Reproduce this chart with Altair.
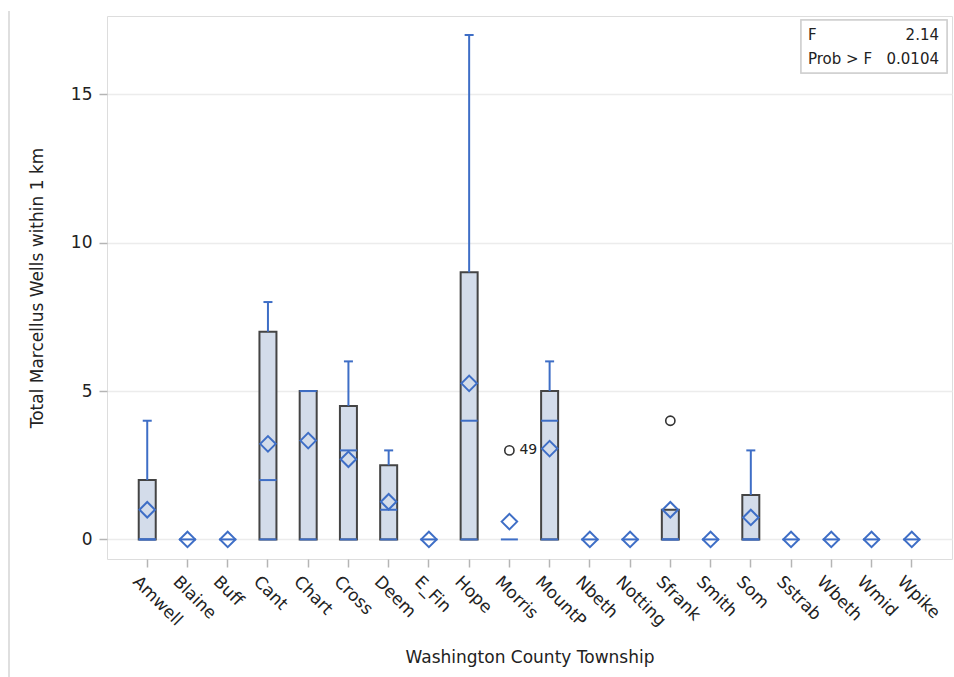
import altair as alt
import pandas as pd

townships = ["Amwell", "Blaine", "Buff", "Cant", "Chart", "Cross", "Deem", "E_Fin",
             "Hope", "Morris", "MountP", "Nbeth", "Notting", "Sfrank", "Smith", "Som",
             "Sstrab", "Wbeth", "Wmid", "Wpike"]
q1 = [0] * 20
median = [0, 0, 0, 2, 5, 3, 1, 0, 4, 0, 4, 0, 0, 0, 0, 0, 0, 0, 0, 0]
q3 = [2, 0, 0, 7, 5, 4.5, 2.5, 0, 9, 0, 5, 0, 0, 1, 0, 1.5, 0, 0, 0, 0]
whisker_hi = [4, 0, 0, 8, 5, 6, 3, 0, 17, 0, 6, 0, 0, 1, 0, 3, 0, 0, 0, 0]
means = [1.0, 0, 0, 3.22, 3.33, 2.7, 1.27, 0, 5.26, 0.6, 3.06, 0, 0, 1.0, 0, 0.74, 0, 0, 0, 0]
outlier_town = ["Morris", "Sfrank"]
outlier_val = [3, 4]
outlier_lbl = ["49", ""]
stat_names = ["F", "Prob > F"]
stat_vals = ["2.14", "0.0104"]

df = pd.DataFrame({"town": townships, "q1": q1, "median": median, "q3": q3,
                   "hi": whisker_hi, "mean": means})
boxes = df[df.q3 > df.q1]
whisk = df[df.hi > df.q3]
out = pd.DataFrame({"town": outlier_town, "val": outlier_val, "lbl": outlier_lbl})
stats = pd.DataFrame({"name": stat_names, "val": stat_vals, "row": [0, 1]})

FONT = "DejaVu Sans"
BLUE = "#3e6ec6"
TXT = "#222222"

xs = alt.X("town:N", sort=townships,
           scale=alt.Scale(type="band", paddingInner=0, paddingOuter=0.5),
           axis=alt.Axis(title="Washington County Township", labelAngle=45,
                         labelAlign="left", labelBaseline="top", labelOffset=-6,
                         labelPadding=6, tickSize=8, tickColor="#b5b5b5",
                         tickWidth=1.5, domain=False, grid=False,
                         labelFont=FONT, labelFontSize=17, labelColor=TXT,
                         titleFont=FONT, titleFontSize=17, titleFontWeight="normal",
                         titleColor=TXT, titlePadding=20))
yscale = alt.Scale(domain=[-0.66, 17.64], nice=False, zero=False)
yaxis = alt.Axis(title="Total Marcellus Wells within 1 km", values=[0, 5, 10, 15],
                 tickSize=8, tickColor="#b5b5b5", tickWidth=1.5, domain=False,
                 grid=True, gridColor="#ececec", gridWidth=1.5,
                 labelFont=FONT, labelFontSize=17, labelColor=TXT, labelPadding=7,
                 titleFont=FONT, titleFontSize=17, titleFontWeight="normal",
                 titleColor=TXT, titlePadding=24)


def Y(field):
    return alt.Y(field, scale=yscale, axis=yaxis)


box = alt.Chart(boxes).mark_bar(size=17, fill="#d3dcea", stroke="#444444",
                                strokeWidth=2).encode(x=xs, y=Y("q1:Q"), y2="q3:Q")
whisker = alt.Chart(whisk).mark_rule(color=BLUE, strokeWidth=2).encode(
    x=xs, y=Y("q3:Q"), y2="hi:Q")
cap = alt.Chart(whisk).mark_tick(color=BLUE, size=9, thickness=2, opacity=1).encode(
    x=xs, y=Y("hi:Q"))
lowline = alt.Chart(boxes).mark_tick(color=BLUE, size=17, thickness=2, opacity=1).encode(
    x=xs, y=Y("q1:Q"))
med = alt.Chart(df).mark_tick(color=BLUE, size=17, thickness=2, opacity=1).encode(
    x=xs, y=Y("median:Q"))
mean_pts = alt.Chart(df).mark_point(shape="diamond", filled=False, color=BLUE, size=240,
                                    strokeWidth=2, opacity=1).encode(
    x=xs, y=Y("mean:Q"))
outl = alt.Chart(out).mark_point(shape="circle", filled=False, color="#333333",
                                 size=85, strokeWidth=1.6, opacity=1).encode(
    x=xs, y=Y("val:Q"))
outl_lbl = alt.Chart(out).mark_text(align="left", baseline="middle", dx=10,
                                    font=FONT, fontSize=14, color=TXT).encode(
    x=xs, y=Y("val:Q"), text="lbl:N")

inset_box = alt.Chart(stats).mark_rect(fill="white", stroke="#d0d0d0",
                                       strokeWidth=1.5).encode(
    x=alt.value(694), x2=alt.value(840), y=alt.value(4), y2=alt.value(57))

inset_layers = []
for r, ypix in [(0, 19), (1, 43)]:
    inset_layers.append(
        alt.Chart(stats).transform_filter(alt.datum.row == r).mark_text(
            align="left", baseline="middle", font=FONT, fontSize=15, color=TXT).encode(
            x=alt.value(701), y=alt.value(ypix), text="name:N"))
    inset_layers.append(
        alt.Chart(stats).transform_filter(alt.datum.row == r).mark_text(
            align="right", baseline="middle", font=FONT, fontSize=15, color=TXT).encode(
            x=alt.value(832), y=alt.value(ypix), text="val:N"))

page_line = alt.Chart(stats).mark_rule(color="#dddddd", strokeWidth=1.5).encode(
    x=alt.value(-98), y=alt.value(-5), y2=alt.value(661))

chart = alt.layer(box, whisker, cap, lowline, med, mean_pts, outl, outl_lbl,
                  inset_box, *inset_layers, page_line).properties(
    width=845, height=543,
    autosize=alt.AutoSizeParams(type="none"),
    padding={"left": 107, "top": 16, "right": 2, "bottom": 118},
).configure_view(stroke="#d0d0d0", strokeWidth=2).configure(background="white")

chart.save("out.html", embed_options={"renderer": "svg", "actions": False})
